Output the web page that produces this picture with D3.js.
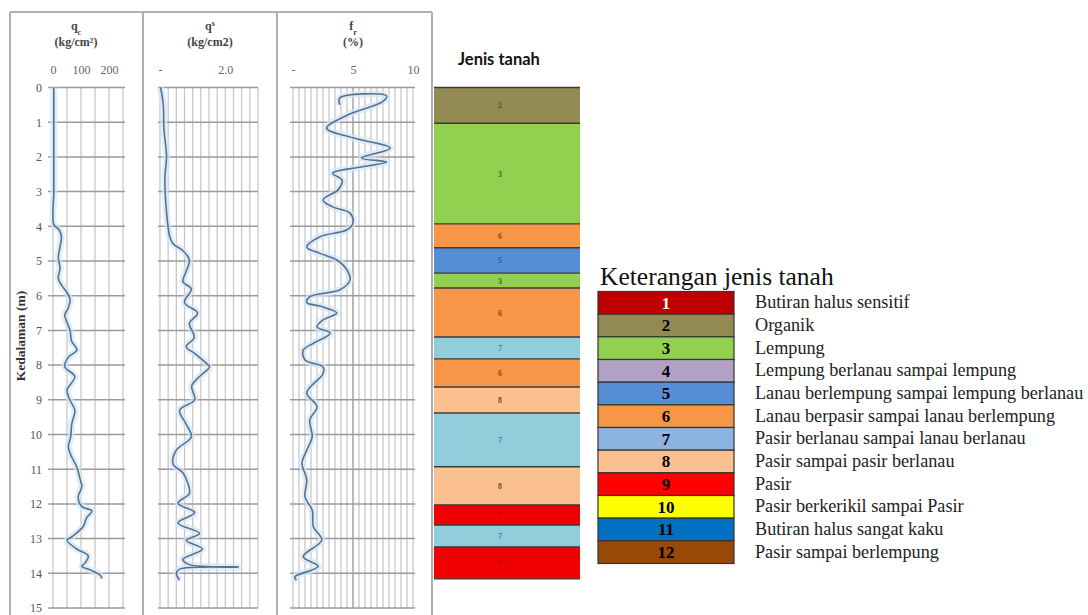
<!DOCTYPE html>
<html>
<head>
<meta charset="utf-8">
<script src="https://cdn.jsdelivr.net/npm/d3@7"></script>
<style>
  body { margin: 0; background: #fff; }
  svg { display: block; }
</style>
</head>
<body>
<div id="chart"></div>
<script>
var SERIF = "'Liberation Serif', 'DejaVu Serif', serif";

// depth ticks (m)
var depthTicks = d3.range(0, 16);

// qc (kg/cm2) vs depth : [depth, value]
var qcPoints = [[0,3],[1,3],[2,3],[3,3],[3.95,3],[4.1,22],[4.3,30],[4.6,25],[4.9,19],[5.2,25],[5.5,19],[5.7,31],
  [5.9,49],[6.1,61],[6.35,55],[6.55,42],[6.75,49],[7.0,61],[7.3,66],[7.57,85],[7.77,55],[8.05,42],[8.33,78],
  [8.72,50],[9.0,60],[9.3,78],[9.7,67],[10.07,63],[10.36,55],[10.65,67],[10.94,85],[11.3,97],[11.5,103],
  [11.8,90],[12.08,103],[12.2,139],[12.4,120],[12.65,108],[12.95,67],[13.05,50],[13.3,85],[13.5,126],
  [13.7,115],[13.8,103],[13.9,132],[14.05,168],[14.15,175]];

// qs (kg/cm2) vs depth
var qsPoints = [[0,0.02],[0.5,0.1],[1.2,0.12],[1.98,0.2],[2.6,0.15],[3.6,0.2],[4.3,0.3],[4.5,0.4],[4.7,0.7],
  [4.97,0.9],[5.3,0.8],[5.6,0.7],[5.8,0.96],[6.2,0.75],[6.5,1.15],[6.8,0.9],[7.2,1.05],[7.47,0.8],[7.66,1.06],
  [7.95,1.42],[8.05,1.52],[8.33,1.21],[8.6,0.97],[9.0,1.06],[9.3,0.6],[9.7,0.8],[10.07,0.96],[10.45,0.5],
  [10.85,0.4],[11.1,0.7],[11.4,0.85],[11.7,0.9],[11.98,0.55],[12.25,1.06],[12.55,0.55],[12.85,1.21],
  [13.05,0.8],[13.3,1.3],[13.6,0.7],[13.75,0.9],[13.82,2.4],[13.88,0.6],[14.0,0.5],[14.2,0.6]];

// fr (%) vs depth, in drawing order
var frPoints = [[0.5,3.9],[0.3,3.9],[0.24,7.8],[0.4,7.5],[0.8,4.5],[1.17,2.8],[1.45,5.0],[1.75,8.1],[2.03,5.7],
  [2.15,7.8],[2.3,5.5],[2.47,3.3],[2.67,4.1],[2.95,3.75],[3.24,2.5],[3.44,3.3],[3.62,4.75],[3.9,5.0],[4.1,4.5],
  [4.3,2.25],[4.6,1.15],[4.78,2.25],[4.97,3.65],[5.26,4.5],[5.55,4.75],[5.83,3.9],[6.03,1.4],[6.2,1.15],
  [6.3,2.25],[6.5,3.65],[6.7,2.5],[6.9,2.0],[7.08,3.1],[7.37,1.7],[7.57,0.85],[7.85,1.0],[8.05,2.5],[8.25,2.5],
  [8.8,1.15],[9.2,2.0],[9.58,1.4],[10.07,1.6],[10.45,1.15],[10.83,0.75],[11.3,1.15],[11.8,1.0],[12.18,1.6],
  [12.66,1.7],[13.04,2.4],[13.52,0.85],[13.8,2.1],[14.1,0.15],[14.2,0.3]];

// soil column layers
var layerTop    = [0, 1.03, 3.93, 4.62, 5.35, 5.78, 7.19, 7.82, 8.63, 9.38, 10.93, 12.03, 12.61, 13.24];
var layerBottom = [1.03, 3.93, 4.62, 5.35, 5.78, 7.19, 7.82, 8.63, 9.38, 10.93, 12.03, 12.61, 13.24, 14.16];
var layerType   = [2, 3, 6, 5, 3, 6, 7, 6, 8, 7, 8, 9, 7, 9];

// legend
var legendNums = [1,2,3,4,5,6,7,8,9,10,11,12];
var legendNames = ["Butiran halus sensitif", "Organik", "Lempung", "Lempung berlanau sampai lempung",
  "Lanau berlempung sampai lempung berlanau", "Lanau berpasir sampai lanau berlempung",
  "Pasir berlanau sampai lanau berlanau", "Pasir sampai pasir berlanau", "Pasir",
  "Pasir berkerikil sampai Pasir", "Butiran halus sangat kaku", "Pasir sampai berlempung"];

var legendColor = {1:"#c00000",2:"#938953",3:"#92d050",4:"#b2a1c7",5:"#558ed5",6:"#f79646",
  7:"#8db3e2",8:"#fac08f",9:"#ff0000",10:"#ffff00",11:"#0070c0",12:"#984807"};
var columnColor = {2:"#948a54",3:"#92d050",5:"#558ed5",6:"#f79646",7:"#92cddc",8:"#fac090",9:"#f00000"};
var columnText = {2:"#5a4f20",3:"#3d6b1a",5:"#2f5597",6:"#9c3d0a",7:"#31859c",8:"#7f4a1c",9:"#c00000"};

var svg = d3.select("#chart").append("svg")
  .attr("width", 1088)
  .attr("height", 615);

var y = d3.scaleLinear().domain([0, 15]).range([87.5, 608]);

// panel frame
var frame = svg.append("g").attr("stroke", "#b0b0b0").attr("stroke-width", 2).attr("fill", "none");
frame.append("line").attr("x1", 10).attr("x2", 432).attr("y1", 12).attr("y2", 12);
[10, 143, 277, 432].forEach(function(x) {
  frame.append("line").attr("x1", x).attr("x2", x).attr("y1", 12).attr("y2", 615);
});

var panels = [
  {data: qcPoints, domain: [0, 250], range: [53, 123], minor: 50, ticks: [0, 100, 200],
   fmt: function(d) { return d; }, gridL: 48, gridR: 125, dark: [] },
  {data: qsPoints, domain: [0, 3], range: [160, 258], minor: 0.25, ticks: [0, 2],
   fmt: function(d) { return d === 0 ? "-" : d.toFixed(1); }, gridL: 158, gridR: 258, dark: [] },
  {data: frPoints, domain: [0, 10], range: [293, 413], minor: 0.5, ticks: [0, 5, 10],
   fmt: function(d) { return d === 0 ? "-" : d; }, gridL: 290, gridR: 415, dark: [5] }
];

panels.forEach(function(p) {
  var x = d3.scaleLinear().domain(p.domain).range(p.range);
  var g = svg.append("g");

  // vertical grid
  g.selectAll("line.v")
    .data(d3.range(p.domain[0], p.domain[1] + p.minor / 2, p.minor))
    .enter().append("line")
    .attr("x1", d => x(d)).attr("x2", d => x(d))
    .attr("y1", y(0)).attr("y2", y(15))
    .attr("stroke", d => p.dark.indexOf(d) >= 0 ? "#8a8a8a" : "#c4c4c4")
    .attr("stroke-width", 1.2);

  // horizontal grid
  g.selectAll("line.h")
    .data(depthTicks)
    .enter().append("line")
    .attr("x1", p.gridL).attr("x2", p.gridR)
    .attr("y1", d => y(d)).attr("y2", d => y(d))
    .attr("stroke", "#9a9a9a")
    .attr("stroke-width", 1.5);

  // top tick labels
  var topAxis = d3.axisTop(x).tickValues(p.ticks).tickSize(0).tickFormat(p.fmt);
  var ax = g.append("g").attr("transform", "translate(0,77)").call(topAxis)
    .attr("font-family", SERIF).attr("font-size", 12);
  ax.select(".domain").remove();
  ax.selectAll("text").attr("fill", "#666");

  var line = d3.line()
    .x(d => x(d[1]))
    .y(d => y(d[0]))
    .curve(d3.curveCatmullRom.alpha(0.5));

  g.append("path").datum(p.data)
    .attr("d", line).attr("fill", "none")
    .attr("stroke", "#d4e6f4").attr("stroke-width", 7).attr("opacity", 0.7);
  g.append("path").datum(p.data)
    .attr("d", line).attr("fill", "none")
    .attr("stroke", "#56728f").attr("stroke-width", 1.6);
});

// depth axis
var depthAxis = d3.axisLeft(y).tickValues(depthTicks).tickSize(0).tickPadding(0);
var da = svg.append("g").attr("transform", "translate(42,0)").call(depthAxis)
  .attr("font-family", SERIF).attr("font-size", 12);
da.select(".domain").remove();
da.selectAll("text").attr("fill", "#555");

svg.append("text")
  .attr("font-family", SERIF)
  .attr("transform", "translate(25,336) rotate(-90)")
  .attr("text-anchor", "middle")
  .attr("font-size", 13.5).attr("font-weight", "bold").attr("fill", "#333")
  .text("Kedalaman (m)");

// panel headers
var headers = [
  {cx: 76, main: "q", sub: "c", shift: "sub", unit: "(kg/cm\u00b2)"},
  {cx: 210, main: "q", sub: "s", shift: "super", unit: "(kg/cm2)"},
  {cx: 353, main: "f", sub: "r", shift: "sub", unit: "(%)"}
];
headers.forEach(function(h) {
  var t = svg.append("text").attr("font-family", SERIF)
    .attr("x", h.cx).attr("y", 30).attr("text-anchor", "middle")
    .attr("font-size", 12).attr("font-weight", "bold").attr("fill", "#444");
  t.append("tspan").text(h.main);
  t.append("tspan").attr("baseline-shift", h.shift).attr("font-size", 8).text(h.sub);
  svg.append("text").attr("font-family", SERIF)
    .attr("x", h.cx).attr("y", 46).attr("text-anchor", "middle")
    .attr("font-size", 12).attr("font-weight", "bold").attr("fill", "#444")
    .text(h.unit);
});

// soil column
svg.append("text")
  .attr("x", 458).attr("y", 65)
  .attr("font-family", "Lato, 'Open Sans', sans-serif")
  .attr("font-size", 16.5).attr("font-weight", "bold").attr("fill", "#111")
  .text("Jenis tanah");

var col = svg.append("g");
var layers = layerType.map(function(t, i) { return {type: t, top: layerTop[i], bottom: layerBottom[i]}; });
col.selectAll("rect")
  .data(layers)
  .enter().append("rect")
  .attr("x", 434).attr("width", 146)
  .attr("y", d => y(d.top))
  .attr("height", d => y(d.bottom) - y(d.top))
  .attr("fill", d => columnColor[d.type]);
col.selectAll("line")
  .data(layerTop.concat([layerBottom[layerBottom.length - 1]]))
  .enter().append("line")
  .attr("x1", 434).attr("x2", 580)
  .attr("y1", d => y(d)).attr("y2", d => y(d))
  .attr("stroke", "#3a3a3a").attr("stroke-width", 1.4);
col.selectAll("text")
  .data(layers)
  .enter().append("text")
  .attr("font-family", SERIF)
  .attr("x", 500)
  .attr("y", d => (y(d.top) + y(d.bottom)) / 2 + 3)
  .attr("text-anchor", "middle")
  .attr("font-size", 8).attr("font-weight", "bold")
  .attr("fill", d => columnText[d.type])
  .text(d => d.type);

// legend
var lg = svg.append("g").attr("font-family", SERIF);
lg.append("text")
  .attr("x", 600).attr("y", 285)
  .attr("font-size", 25.5).attr("fill", "#111")
  .text("Keterangan jenis tanah");

var rowY = d3.scaleBand().domain(legendNums).range([291.5, 563.5]).padding(0);
var rows = lg.selectAll("g.row")
  .data(legendNums)
  .enter().append("g")
  .attr("transform", d => "translate(0," + rowY(d) + ")");
rows.append("rect")
  .attr("x", 598).attr("width", 136)
  .attr("height", rowY.bandwidth())
  .attr("fill", d => legendColor[d])
  .attr("stroke", "#333").attr("stroke-width", 1.2);
rows.append("text")
  .attr("x", 666).attr("y", rowY.bandwidth() / 2 + 6)
  .attr("text-anchor", "middle")
  .attr("font-size", 17).attr("font-weight", "bold")
  .attr("fill", d => d === 1 ? "#fff" : "#000")
  .text(d => d);
rows.append("text")
  .attr("x", 755).attr("y", rowY.bandwidth() / 2 + 5.5)
  .attr("font-size", 18.2).attr("fill", "#222")
  .text((d, i) => legendNames[i]);
</script>
</body>
</html>
